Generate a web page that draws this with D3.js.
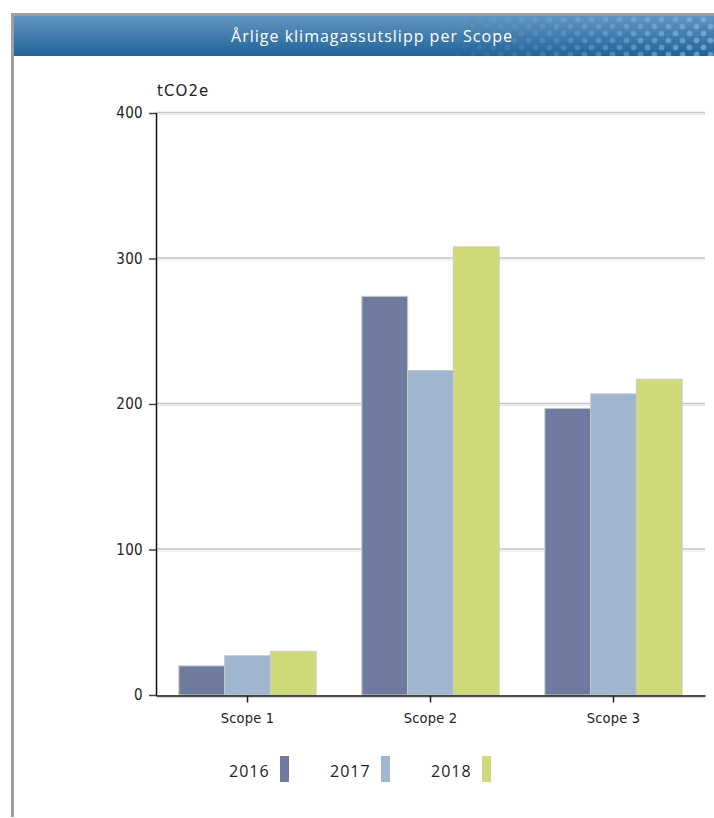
<!DOCTYPE html>
<html>
<head>
<meta charset="utf-8">
<script src="https://cdn.jsdelivr.net/npm/d3@7"></script>
<style>
  body { margin: 0; background: #fff; }
  svg { display: block; }
</style>
</head>
<body>
<svg id="chart" width="714" height="818"></svg>
<script>
// DATA
const categories = ["Scope 1", "Scope 2", "Scope 3"];
const years = ["2016", "2017", "2018"];
const values2016 = [20, 274, 197];
const values2017 = [27, 223, 207];
const values2018 = [30, 308, 217];
const yTicks = [0, 100, 200, 300, 400];
const colors = ["#6e7b9e", "#a0b6cf", "#d1da78"];

const series = [values2016, values2017, values2018];

const svg = d3.select("#chart");
const defs = svg.append("defs");

// title bar gradient
const grad = defs.append("linearGradient")
  .attr("id", "titleGrad").attr("x1", 0).attr("y1", 0).attr("x2", 0).attr("y2", 1);
grad.append("stop").attr("offset", "0%").attr("stop-color", "#6394c0");
grad.append("stop").attr("offset", "100%").attr("stop-color", "#21649a");

// dotted pattern on the right side of the title bar
const pat = defs.append("pattern")
  .attr("id", "dots").attr("patternUnits", "userSpaceOnUse")
  .attr("width", 14).attr("height", 14).attr("x", 0).attr("y", 16);
pat.append("circle").attr("cx", 3.5).attr("cy", 3.5).attr("r", 2.8).attr("fill", "#86b6e0");
pat.append("circle").attr("cx", 10.5).attr("cy", 10.5).attr("r", 2.8).attr("fill", "#86b6e0");

const fade = defs.append("linearGradient")
  .attr("id", "fade").attr("x1", 0).attr("y1", 0).attr("x2", 1).attr("y2", 0);
fade.append("stop").attr("offset", "0%").attr("stop-color", "#fff").attr("stop-opacity", 0);
fade.append("stop").attr("offset", "45%").attr("stop-color", "#fff").attr("stop-opacity", 0.3);
fade.append("stop").attr("offset", "100%").attr("stop-color", "#fff").attr("stop-opacity", 0.7);
defs.append("mask").attr("id", "fadeMask")
  .append("rect").attr("x", 430).attr("y", 16).attr("width", 284).attr("height", 40)
  .attr("fill", "url(#fade)");

// FRAME
svg.append("rect").attr("x", 11).attr("y", 13).attr("width", 703).attr("height", 3).attr("fill", "#9e9e9e");
svg.append("rect").attr("x", 11).attr("y", 13).attr("width", 3).attr("height", 804).attr("fill", "#9e9e9e");
svg.append("rect").attr("x", 14).attr("y", 16).attr("width", 700).attr("height", 40).attr("fill", "url(#titleGrad)");
svg.append("rect").attr("x", 430).attr("y", 16).attr("width", 284).attr("height", 40)
  .attr("fill", "url(#dots)").attr("mask", "url(#fadeMask)");
svg.append("text")
  .attr("x", 372).attr("y", 42)
  .attr("text-anchor", "middle")
  .attr("fill", "#fff")
  .style("font-family", "'Open Sans', sans-serif")
  .style("font-size", "16px")
  .style("letter-spacing", "1px")
  .text("Årlige klimagassutslipp per Scope");

// SCALES
const x0 = d3.scaleBand().domain(categories).range([156, 705]).paddingInner(0.25).paddingOuter(0.125);
const x1 = d3.scaleBand().domain(years).range([0, x0.bandwidth()]);
const y = d3.scaleLinear().domain([0, 400]).range([695, 113]);

const axisFont = "'DejaVu Sans Condensed', 'DejaVu Sans', sans-serif";

// gridlines
const grid = svg.append("g");
grid.selectAll("line.g1").data(yTicks.filter((d) => d > 0)).join("line")
  .attr("x1", 156).attr("x2", 705)
  .attr("y1", (d) => y(d) - 0.5).attr("y2", (d) => y(d) - 0.5)
  .attr("stroke", "#c4c4c4").attr("stroke-width", 1.5);
grid.selectAll("line.g2").data(yTicks.filter((d) => d > 0)).join("line")
  .attr("x1", 156).attr("x2", 705)
  .attr("y1", (d) => y(d) + 1.5).attr("y2", (d) => y(d) + 1.5)
  .attr("stroke", "#e6e6e6").attr("stroke-width", 1);

// BARS
const groups = svg.append("g").selectAll("g").data(categories).join("g")
  .attr("transform", (d) => `translate(${x0(d)},0)`);
groups.selectAll("rect")
  .data((d, i) => years.map((yr, j) => ({ year: yr, value: series[j][i], j })))
  .join("rect")
  .attr("x", (d) => x1(d.year))
  .attr("y", (d) => y(d.value))
  .attr("width", x1.bandwidth())
  .attr("height", (d) => y(0) - y(d.value))
  .attr("fill", (d) => colors[d.j])
  .attr("stroke", "#c8c8c8")
  .attr("stroke-width", 1);

// Y AXIS
const yAxis = svg.append("g").attr("transform", "translate(156,0)")
  .call(d3.axisLeft(y).tickValues(yTicks).tickSize(7).tickPadding(6));
yAxis.select(".domain").remove();
yAxis.selectAll(".tick line").attr("stroke", "#444").attr("stroke-width", 1.5);
yAxis.selectAll(".tick text")
  .attr("fill", "#222")
  .style("font-family", axisFont)
  .style("font-size", "15px")
  .style("letter-spacing", "0.3px");
svg.append("line").attr("x1", 156.5).attr("x2", 156.5).attr("y1", 113).attr("y2", 696)
  .attr("stroke", "#111").attr("stroke-width", 1.5);

// X AXIS
svg.append("line").attr("x1", 156).attr("x2", 705).attr("y1", 697.5).attr("y2", 697.5)
  .attr("stroke", "#d8d8d8").attr("stroke-width", 1.5);
const xAxis = svg.append("g").attr("transform", "translate(0,695.5)")
  .call(d3.axisBottom(x0).tickSize(7).tickPadding(10).tickSizeOuter(0));
xAxis.select(".domain").attr("stroke", "#111").attr("stroke-width", 1.5);
xAxis.selectAll(".tick line").attr("stroke", "#222").attr("stroke-width", 1.5);
xAxis.selectAll(".tick text")
  .attr("fill", "#222")
  .style("font-family", axisFont)
  .style("font-size", "14.5px")
  .style("letter-spacing", "0.2px");

// unit label
svg.append("text")
  .attr("x", 157).attr("y", 96)
  .attr("fill", "#222")
  .style("font-family", "'DejaVu Sans', sans-serif")
  .style("font-size", "15px")
  .style("letter-spacing", "1.1px")
  .text("tCO2e");

// LEGEND
const legend = svg.append("g").selectAll("g").data(years).join("g")
  .attr("transform", (d, i) => `translate(${229 + i * 101},756)`);
legend.append("text")
  .attr("x", 0).attr("y", 20.5)
  .attr("fill", "#222")
  .style("font-family", "'Open Sans', sans-serif")
  .style("font-size", "16px")
  .style("letter-spacing", "1px")
  .text((d) => d);
legend.append("rect")
  .attr("x", 51).attr("y", 0).attr("width", 9).attr("height", 26)
  .attr("fill", (d, i) => colors[i]);
</script>
</body>
</html>
